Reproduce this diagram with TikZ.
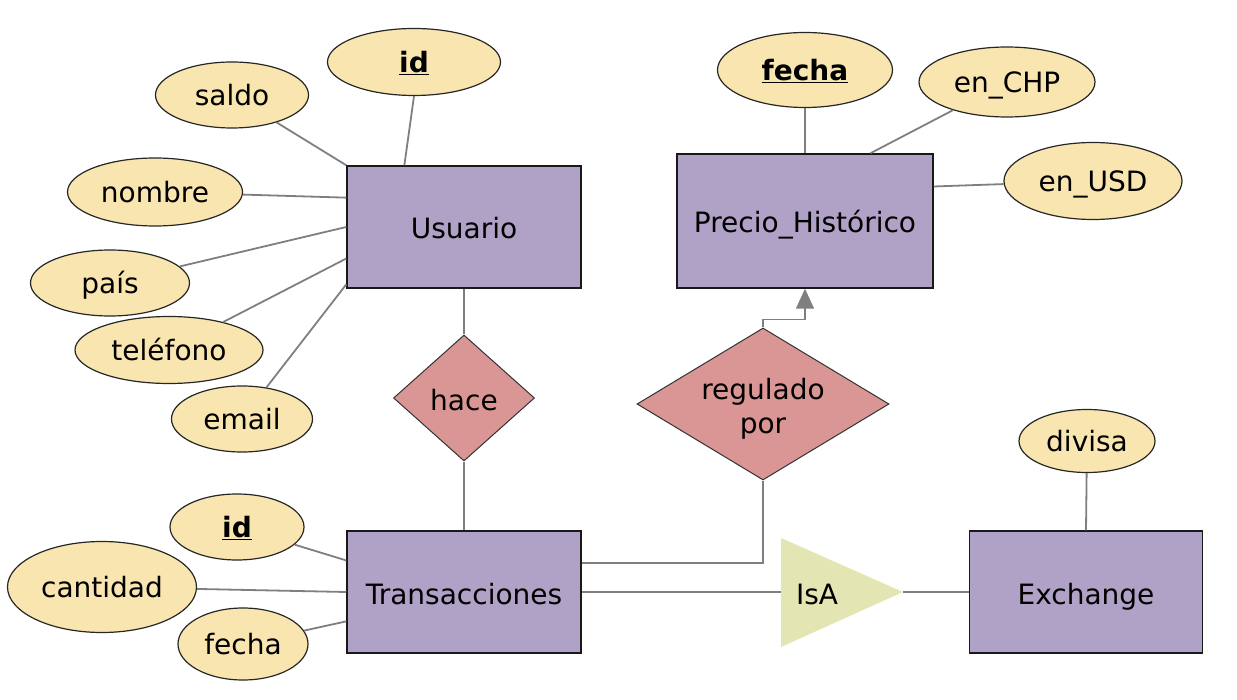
\documentclass[tikz,border=0pt]{standalone}
\usepackage{fontspec}
\setmainfont{DejaVu Sans}
\usetikzlibrary{shapes.geometric,arrows.meta}

\definecolor{entfill}{HTML}{B0A2C6}
\definecolor{attrfill}{HTML}{F9E5AF}
\definecolor{relfill}{HTML}{D99694}
\definecolor{isafill}{HTML}{E3E6B2}
\definecolor{linegray}{HTML}{7F7F7F}

\newcommand{\pkey}[1]{\underline{\textbf{#1}}}

\tikzset{
  entity/.style={draw=black!90, line width=1.5pt, fill=entfill, minimum width=234pt, minimum height=122pt, inner sep=0pt, text height=24pt, text depth=0pt},
  attr/.style={ellipse, draw=black!85, line width=1.2pt, fill=attrfill, inner sep=0pt, text height=21pt, text depth=0pt},
  rel/.style={diamond, draw=black!80, line width=1pt, fill=relfill, inner sep=0pt, align=center},
  link/.style={draw=linegray, line width=1.8pt}
}

\begin{document}
\begin{tikzpicture}[x=1pt,y=-1pt,font=\fontsize{28}{34}\selectfont]
    \useasboundingbox (0,0) rectangle (1237,700);

    % entidades
    \node (usuario)  [entity]                                         at (464,227)  {Usuario};
    \node (precio)   [entity, minimum width=256pt, minimum height=134pt] at (805,221) {Precio\_Histórico};
    \node (trans)    [entity]                                         at (464,592)  {Transacciones};
    \node (exchange) [entity, minimum width=233pt]                    at (1086,592) {Exchange};

    % relaciones
    \node (hace)     [rel, minimum width=141pt, minimum height=126pt, text height=25pt, text depth=0pt] at (464,398) {hace};
    \node (regulado) [rel, aspect=1.66, minimum width=252pt, minimum height=152pt, text height=62pt, text depth=4pt] at (763,404) {regulado\\por};

    \fill[isafill] (781,538) -- (903,592) -- (781,647) -- cycle;
    \coordinate (isaL) at (781,592);
    \coordinate (isaR) at (903,592);
    \node (isa) at (817,594) {IsA};

    % atributos
    \node (uid)      [attr, minimum width=173pt, minimum height=67pt] at (414,62)  {\pkey{id}};
    \node (saldo)    [attr, minimum width=153pt, minimum height=66pt] at (232,95)  {saldo};
    \node (nombre)   [attr, minimum width=175pt, minimum height=68pt] at (155,192) {nombre};
    \node (pais)     [attr, minimum width=159pt, minimum height=66pt] at (110,283) {país};
    \node (telefono) [attr, minimum width=188pt, minimum height=67pt] at (169,350) {teléfono};
    \node (email)    [attr, minimum width=141pt, minimum height=66pt] at (242,419) {email};

    \node (pfecha)   [attr, minimum width=175pt, minimum height=75pt] at (805,70)   {\pkey{fecha}};
    \node (chp)      [attr, minimum width=176pt, minimum height=70pt] at (1007,82)  {en\_CHP};
    \node (usd)      [attr, minimum width=178pt, minimum height=77pt] at (1093,181) {en\_USD};

    \node (divisa)   [attr, minimum width=136pt, minimum height=63pt] at (1087,441) {divisa};

    \node (tid)      [attr, minimum width=134pt, minimum height=66pt] at (237,527) {\pkey{id}};
    \node (cantidad) [attr, minimum width=189pt, minimum height=91pt] at (102,587) {cantidad};
    \node (tfecha)   [attr, minimum width=130pt, minimum height=72pt] at (243,644) {fecha};

    % lineas
    \path (uid.south) edge [link] (usuario.134);
    \path (saldo)     edge [link] (usuario.north west);
    \path (nombre)    edge [link] (usuario.166);
    \path (pais)      edge [link] (usuario.west);
    \path (telefono)  edge [link] (usuario.195);
    \path (email)     edge [link] (usuario.206);

    \path (pfecha) edge [link] (precio.north);
    \path (chp)    edge [link] (precio.46);
    \path (usd)    edge [link] (precio.15);

    \path (tid)      edge [link] (trans.165);
    \path (cantidad) edge [link] (trans.west);
    \path (tfecha)   edge [link] (trans.194);

    \path (usuario) edge [link] (hace);
    \path (hace)    edge [link] (trans);

    \draw[link] (trans.14) -| (regulado.south);
    \draw[link, -{Triangle[length=20pt,width=18pt]}, linegray] (regulado.north) -- ++(0,-8) -| (precio.south);

    \path (trans.east) edge [link] (isaL);
    \path (isaR) edge [link] (exchange.west);
    \path (divisa) edge [link] (exchange.north);
\end{tikzpicture}
\end{document}
